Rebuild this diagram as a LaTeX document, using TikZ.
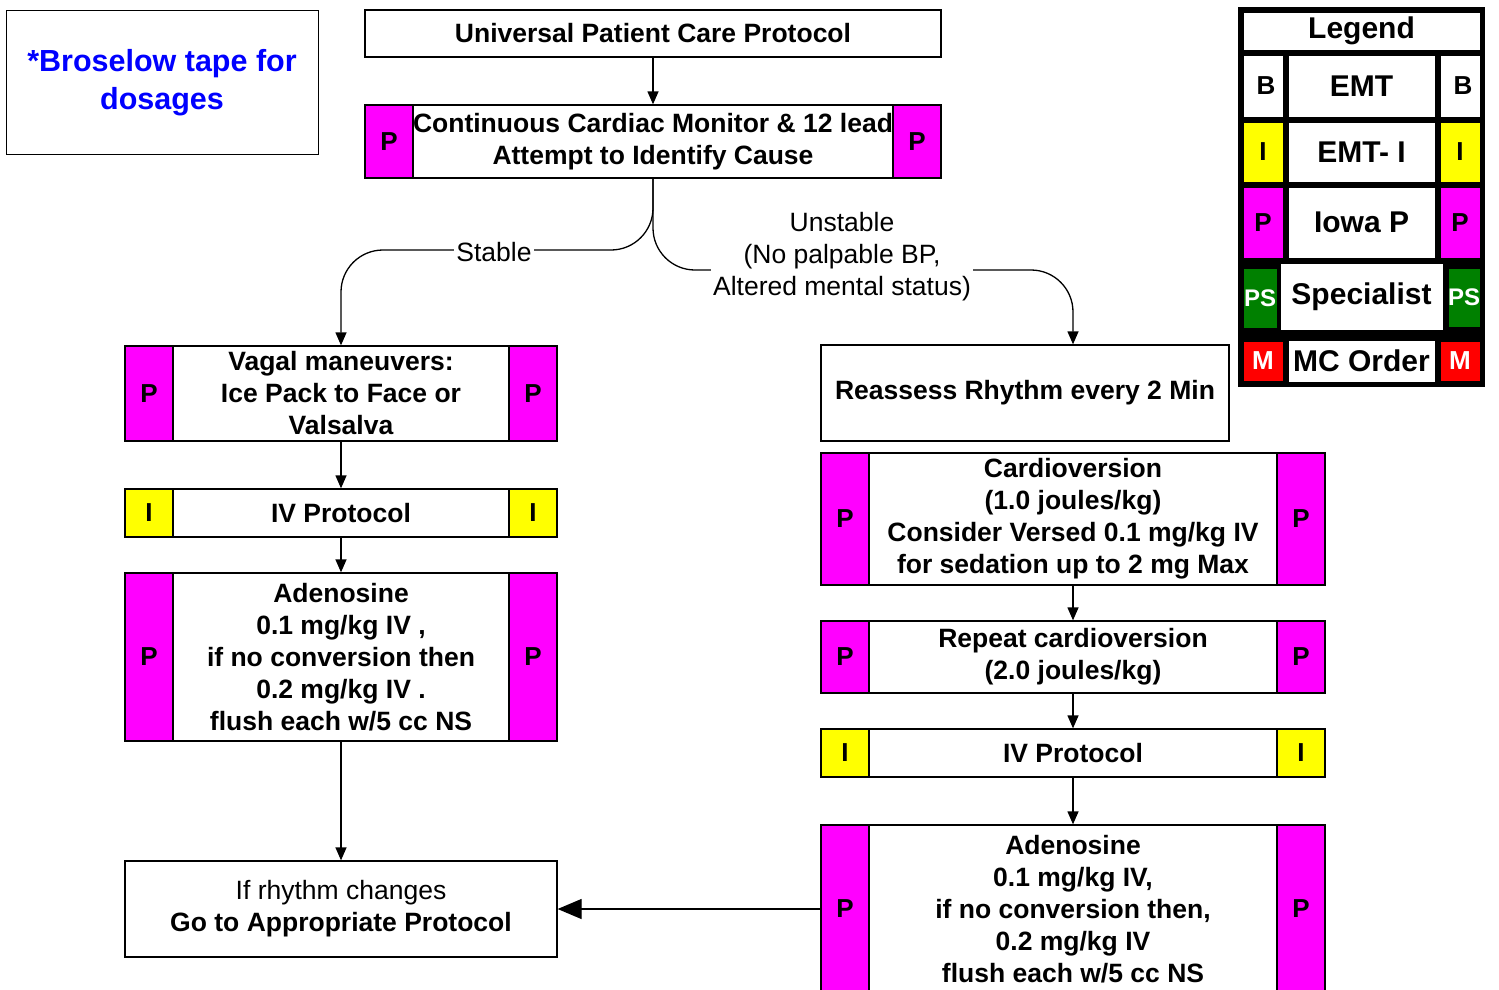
\documentclass[tikz,border=0pt]{standalone}
\usepackage{fontspec}
\setmainfont{Liberation Sans}
\usetikzlibrary{arrows.meta,calc}
\definecolor{pmag}{RGB}{255,0,255}
\definecolor{iyel}{RGB}{255,255,0}
\definecolor{psgreen}{RGB}{0,128,0}
\definecolor{mred}{RGB}{255,0,0}
\definecolor{tapeblue}{RGB}{0,0,255}
\begin{document}
\begin{tikzpicture}[x=1pt,y=-1pt,
  box/.style={draw=black, fill=white, line width=1.3pt, inner sep=0pt, align=center,
    font=\bfseries\fontsize{26.5}{32}\selectfont},
  side/.style={draw=black, line width=1.3pt, inner sep=0pt, minimum width=48pt,
    font=\bfseries\fontsize{26}{30}\selectfont},
  pside/.style={side, fill=pmag},
  iside/.style={side, fill=iyel},
  flow/.style={line width=1.3pt, -{Triangle[length=13pt,width=11pt]}},
  bigflow/.style={line width=1.3pt, -{Triangle[length=24pt,width=20pt]}},
  lbl/.style={fill=white, inner sep=2pt, align=center, font=\fontsize{26.5}{32}\selectfont},
  legcell/.style={inner sep=0pt, draw=black, line width=0.8pt, font=\bfseries\fontsize{30}{34}\selectfont},
  legside/.style={legcell, minimum width=40pt, font=\bfseries\fontsize{26}{30}\selectfont},
]
\useasboundingbox (0,0) rectangle (1499,990);
\clip (0,0) rectangle (1499,990);

% note box
\node[box, line width=1pt, minimum width=312pt, minimum height=143pt, text=tapeblue,
  font=\bfseries\fontsize{30.5}{38}\selectfont] (tape) at (162,82.5) {*Broselow tape for\\dosages};

% top of the protocol
\node[box, minimum width=576pt, minimum height=47pt] (upc) at (653,33.5) {Universal Patient Care Protocol};
\node[box, minimum width=576pt, minimum height=73pt] (cont) at (653,141.5)
  {Continuous Cardiac Monitor \& 12 lead\\Attempt to Identify Cause};
\node[pside, minimum height=73pt] (contL) at (389,141.5) {P};
\node[pside, minimum height=73pt] (contR) at (917,141.5) {P};

% stable branch
\node[box, minimum width=432pt, minimum height=95pt] (vagal) at (341,393.5)
  {Vagal maneuvers:\\Ice Pack to Face or\\Valsalva};
\node[pside, minimum height=95pt] (vagalL) at (149,393.5) {P};
\node[pside, minimum height=95pt] (vagalR) at (533,393.5) {P};

\node[box, minimum width=432pt, minimum height=48pt] (ivL) at (341,513) {IV Protocol};
\node[iside, minimum height=48pt] (ivLL) at (149,513) {I};
\node[iside, minimum height=48pt] (ivLR) at (533,513) {I};

\node[box, minimum width=432pt, minimum height=168pt] (adenL) at (341,657)
  {Adenosine\\0.1 mg/kg IV ,\\if no conversion then\\0.2 mg/kg IV .\\flush each w/5 cc NS};
\node[pside, minimum height=168pt] (adenLL) at (149,657) {P};
\node[pside, minimum height=168pt] (adenLR) at (533,657) {P};

\node[box, minimum width=432pt, minimum height=96pt] (ifr) at (341,909)
  {{\mdseries If rhythm changes}\\Go to Appropriate Protocol};

% unstable branch
\node[box, minimum width=408pt, minimum height=96pt] (reassess) at (1025,393)
  {Reassess Rhythm every 2 Min};

\node[box, minimum width=504pt, minimum height=132pt] (cardio) at (1073,519)
  {Cardioversion\\(1.0 joules/kg)\\Consider Versed 0.1 mg/kg IV\\for sedation up to 2 mg Max};
\node[pside, minimum height=132pt] (cardioL) at (845,519) {P};
\node[pside, minimum height=132pt] (cardioR) at (1301,519) {P};

\node[box, minimum width=504pt, minimum height=72pt] (repeat) at (1073,657)
  {Repeat cardioversion\\(2.0 joules/kg)};
\node[pside, minimum height=72pt] (repeatL) at (845,657) {P};
\node[pside, minimum height=72pt] (repeatR) at (1301,657) {P};

\node[box, minimum width=504pt, minimum height=48pt] (ivR) at (1073,753) {IV Protocol};
\node[iside, minimum height=48pt] (ivRL) at (845,753) {I};
\node[iside, minimum height=48pt] (ivRR) at (1301,753) {I};

\node[box, minimum width=504pt, minimum height=168pt] (adenR) at (1073,909)
  {Adenosine\\0.1 mg/kg IV,\\if no conversion then,\\0.2 mg/kg IV\\flush each w/5 cc NS};
\node[pside, minimum height=168pt] (adenRL) at (845,909) {P};
\node[pside, minimum height=168pt] (adenRR) at (1301,909) {P};

% connectors
\draw[flow] (upc) -- (cont);
\draw[flow, rounded corners=42pt] (cont.south) -- (653,250) -- (341,250) -- (vagal.north);
\draw[flow, rounded corners=42pt] (cont.south) -- (653,270) -- (1073,270) -- (cardio.north |- reassess.north);
\node[lbl] (stable) at (494,252) {Stable};
\node[lbl] (unstable) at (842,257) {Unstable\\(No palpable BP,\\Altered mental status)};

\draw[flow] (vagal) -- (ivL);
\draw[flow] (ivL) -- (adenL);
\draw[flow] (adenL) -- (ifr);
\draw[flow] (cardio) -- (repeat);
\draw[flow] (repeat) -- (ivR);
\draw[flow] (ivR) -- (adenR);
\draw[bigflow] (adenR.west) -- (ifr.east);

% legend
\fill[black] (1238,7) rectangle (1485,387);
\node[legcell, fill=white, minimum width=237pt, minimum height=38pt] (lgtitle) at (1361.5,31) {Legend};

\node[legside, fill=white, minimum height=62pt] (lgBl) at (1263,86) {\hspace{6pt}B};
\node[legcell, fill=white, minimum width=147pt, minimum height=62pt] (lgB) at (1361.5,86) {EMT};
\node[legside, fill=white, minimum height=62pt] (lgBr) at (1460,86) {\hspace{6pt}B};

\node[legside, fill=iyel, minimum height=60pt] (lgIl) at (1263,152) {I};
\node[legcell, fill=white, minimum width=147pt, minimum height=60pt] (lgI) at (1361.5,152) {EMT- I};
\node[legside, fill=iyel, minimum height=60pt] (lgIr) at (1460,152) {I};

\node[legside, fill=pmag, minimum height=71pt] (lgPl) at (1263,222.5) {P};
\node[legcell, fill=white, minimum width=147pt, minimum height=71pt] (lgP) at (1361.5,222.5) {Iowa P};
\node[legside, fill=pmag, minimum height=71pt] (lgPr) at (1460,222.5) {P};

\node[legcell, fill=white, minimum width=163pt, minimum height=67pt] (lgS) at (1361.5,296.5) {Specialist};
\node[legside, fill=psgreen, text=white, minimum width=34pt, minimum height=60pt,
  font=\bfseries\fontsize{24}{28}\selectfont] (lgSl) at (1260,298) {PS};
\node[legside, fill=psgreen, text=white, minimum width=32pt, minimum height=59pt,
  font=\bfseries\fontsize{24}{28}\selectfont] (lgSr) at (1464,297.5) {PS};

\node[legside, fill=mred, text=white, minimum height=40pt] (lgMl) at (1263,361) {M};
\node[legcell, fill=white, minimum width=147pt, minimum height=42pt] (lgM) at (1361.5,361) {MC Order};
\node[legside, fill=mred, text=white, minimum height=40pt] (lgMr) at (1460,361) {M};
\end{tikzpicture}
\end{document}
